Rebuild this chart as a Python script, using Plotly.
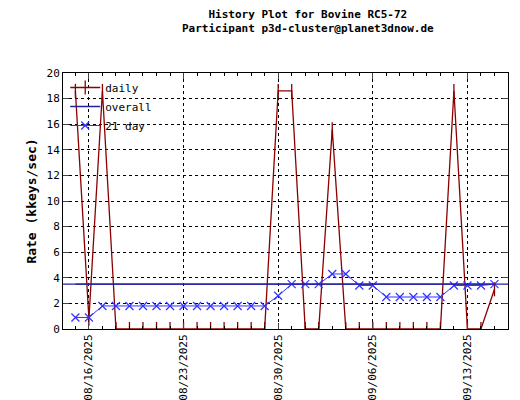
import pandas as pd
import plotly.graph_objects as go

dates = pd.date_range("2025-08-15", "2025-09-15", freq="D")
daily = [18.6, 0.8, 18.6, 0, 0, 0, 0, 0, 0, 0, 0, 0, 0, 0, 0, 18.6, 18.6, 0, 0, 15.6,
         0, 0, 0, 0, 0, 0, 0, 0, 18.6, 0, 0, 3.1]
day21 = [0.9, 0.9, 1.8, 1.8, 1.8, 1.8, 1.8, 1.8, 1.8, 1.8, 1.8, 1.8, 1.8, 1.8, 1.8, 2.6, 3.5,
         3.5, 3.5, 4.3, 4.3, 3.4, 3.4, 2.5, 2.5, 2.5, 2.5, 2.5, 3.4, 3.4, 3.4, 3.5]
overall = 3.5
xtick_vals = ["2025-08-16", "2025-08-23", "2025-08-30", "2025-09-06", "2025-09-13"]
xtick_text = ["08/16/2025", "08/23/2025", "08/30/2025", "09/06/2025", "09/13/2025"]

font = dict(family="DejaVu Sans Mono", size=11, color="black")
fig = go.Figure()
fig.add_trace(go.Scatter(x=dates, y=daily, name="daily", mode="lines+markers",
                         line=dict(color="#8b0000", width=1.3),
                         marker=dict(symbol="line-ns", size=10, line=dict(color="#8b0000", width=1.3))))
fig.add_trace(go.Scatter(x=[dates[0], dates[-1]], y=[overall, overall], name="overall", mode="lines",
                         line=dict(color="#2020a0", width=1.3)))
fig.add_trace(go.Scatter(x=dates, y=day21, name="21 day", mode="lines+markers",
                         line=dict(color="#3333ff", width=1),
                         marker=dict(symbol="x-thin", size=8, line=dict(color="#3333ff", width=1.2))))
fig.add_hline(y=overall, line=dict(color="#2020a0", width=1.3))

fig.update_layout(
    width=520, height=400, margin=dict(l=55, r=20, t=65, b=79, autoexpand=False),
    paper_bgcolor="white", plot_bgcolor="white", font=font,
    annotations=[dict(text="<b>History Plot for Bovine RC5-72<br>Participant p3d-cluster@planet3dnow.de</b>",
                      xref="paper", yref="paper", x=0.55, y=1.2, xanchor="center", yanchor="middle",
                      showarrow=False, font=dict(size=11))],
    legend=dict(x=0.005, y=1, xanchor="left", yanchor="top", bgcolor="rgba(0,0,0,0)",
                font=dict(size=11), tracegroupgap=0, itemwidth=30),
)
fig.update_xaxes(range=["2025-08-14 02:00", "2025-09-16"], tickvals=xtick_vals, ticktext=xtick_text,
                 tickangle=-90, showgrid=True, gridcolor="black", griddash="dot", gridwidth=1,
                 showline=True, linecolor="black", mirror="ticks", ticks="inside", ticklen=6,
                 tickfont=dict(size=11), zeroline=False, automargin=False,
                 minor=dict(dtick=86400000, ticks="inside", ticklen=3, tickcolor="black", showgrid=False))
fig.update_yaxes(range=[0, 20], dtick=2, title=dict(text="<b>Rate (kkeys/sec)</b>", standoff=6),
                 showgrid=True, gridcolor="black", griddash="dot", gridwidth=1,
                 showline=True, linecolor="black", mirror="ticks", ticks="inside", ticklen=6,
                 zeroline=False, tickfont=dict(size=11), automargin=False)
fig.write_html("out.html")
